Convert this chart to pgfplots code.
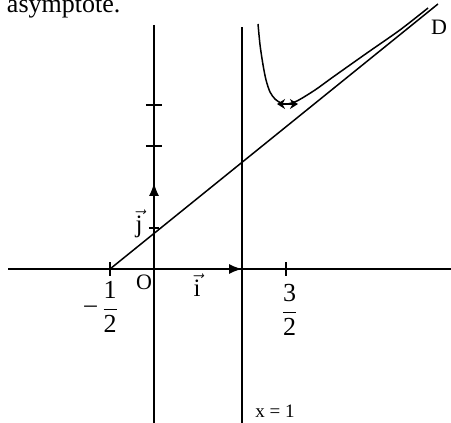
\documentclass[border=0pt]{standalone}
\usepackage{fontspec}
\setmainfont{Liberation Serif}
\usepackage{pgfplots}
\pgfplotsset{compat=1.18}
\usetikzlibrary{arrows.meta}

\newcommand\fs[1]{\fontsize{#1bp}{#1bp}\selectfont}
\newcommand\fr[2]{$\displaystyle\frac{\mbox{#1}}{\mbox{#2}}$}

\begin{document}
\begin{tikzpicture}
\begin{axis}[
  name=a, hide axis, scale only axis,
  width=451bp, height=423bp,
  xmin=-1.75, xmax=3.375, ymin=-1.878, ymax=3.2805,
  clip=false,
  ln/.style={black, solid, mark=none, line width=1.5bp},
]
% axes and the vertical asymptote x = 1
\addplot[ln] coordinates {(-1.659,0) (3.375,0)};
\addplot[ln] coordinates {(0,2.976) (0,-1.878)};
\addplot[ln] coordinates {(1,2.951) (1,-1.878)};

% ticks
\addplot[ln] coordinates {(-0.5,-0.085) (-0.5,0.085)};
\addplot[ln] coordinates {(1.5,-0.085) (1.5,0.085)};
\addplot[ln] coordinates {(-0.057,0.5) (0.057,0.5)};
\addplot[ln] coordinates {(-0.091,1.5) (0.091,1.5)};
\addplot[ln] coordinates {(-0.091,2) (0.091,2)};

% unit vectors
\addplot[ln, -{Latex[length=13bp,width=10bp]}] coordinates {(0,0) (1,0)};
\addplot[ln, -{Latex[length=13bp,width=10bp]}] coordinates {(0,0) (0,1.05)};

% oblique asymptote D
\addplot[ln] coordinates {(-0.5,0) (3.227,3.232)};

% the curve
\addplot[ln, smooth, tension=0.5] coordinates {
  (1.182,2.988) (1.205,2.732) (1.239,2.488) (1.273,2.305) (1.318,2.159)
  (1.375,2.073) (1.443,2.024) (1.511,2.012) (1.625,2.049) (1.830,2.183)
  (2.034,2.341) (2.420,2.634) (2.795,2.915) (3.114,3.183)};

% horizontal tangent at the minimum
\addplot[ln, line width=1.3bp, {Stealth[length=8bp,width=10bp]}-{Stealth[length=8bp,width=10bp]}]
  coordinates {(1.398,2.012) (1.636,2.012)};

% labels
\node[anchor=base east, inner sep=0pt, font=\fs{26}] at (axis cs:-0.38,3.122) {asymptote.};
\node[inner sep=0pt, font=\fs{22}] at (axis cs:3.239,2.951) {D};
\node[inner sep=0pt, font=\fs{22}] at (axis cs:-0.114,-0.159) {O};
\node[anchor=base, inner sep=0pt, font=\fs{25}] at (axis cs:0.489,-0.341) {$\vec{\mbox{i}}$};
\node[anchor=base, inner sep=0pt, font=\fs{25}] at (axis cs:-0.17,0.44) {$\vec{\mbox{j}}$};
\node[inner sep=0pt, font=\fs{26}] at (axis cs:1.54,-0.5) {\fr{3}{2}};
\node[inner sep=0pt, font=\fs{26}] at (axis cs:-0.5,-0.463) {\fr{1}{2}};
\node[anchor=base, inner sep=0pt, font=\fs{25}] at (axis cs:-0.72,-0.53) {–};
\node[anchor=base, inner sep=0pt, font=\fs{19}] at (axis cs:1.375,-1.817) {x = 1};
\end{axis}
\pgfresetboundingbox
\path[use as bounding box] (a.south west) rectangle (a.north east);
\end{tikzpicture}
\end{document}
